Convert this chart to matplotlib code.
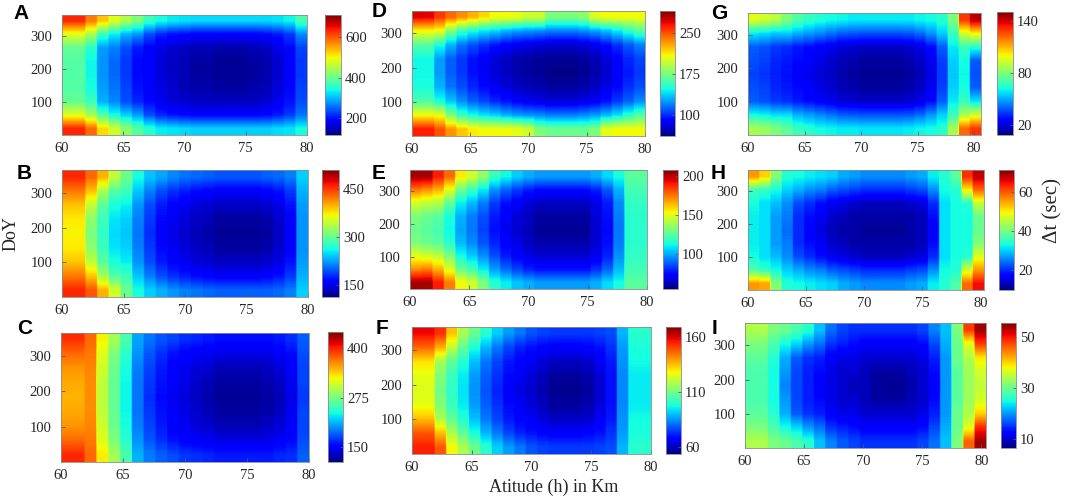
import numpy as np
import matplotlib.pyplot as plt

plt.rcParams['font.family'] = ['Liberation Serif', 'DejaVu Serif']

# DoY at the centre of each stored row (bottom -> top), 21 altitude bins from 60 km up
doy_rows = [21, 62, 102, 142, 183, 223, 264, 304, 345]

# Delta t (sec): one list per altitude bin, values along doy_rows
dt_A = [
    [632, 484, 395, 383, 383, 383, 395, 484, 632],
    [632, 484, 395, 383, 383, 383, 395, 484, 632],
    [590, 442, 365, 341, 335, 335, 353, 442, 579],
    [519, 383, 294, 282, 276, 276, 282, 365, 531],
    [472, 341, 270, 258, 252, 252, 264, 329, 484],
    [424, 312, 235, 229, 223, 223, 235, 294, 448],
    [383, 282, 211, 199, 193, 193, 205, 276, 413],
    [353, 235, 193, 187, 181, 181, 187, 235, 365],
    [329, 211, 175, 169, 163, 163, 169, 211, 341],
    [324, 199, 163, 158, 152, 152, 158, 199, 329],
    [318, 193, 158, 146, 146, 146, 152, 193, 324],
    [312, 187, 152, 140, 134, 134, 146, 187, 318],
    [312, 187, 152, 140, 134, 134, 146, 187, 318],
    [312, 187, 152, 134, 128, 128, 140, 187, 318],
    [312, 187, 152, 134, 128, 128, 140, 187, 318],
    [312, 187, 152, 134, 128, 128, 140, 187, 318],
    [312, 187, 152, 140, 134, 134, 146, 187, 318],
    [312, 193, 158, 146, 140, 140, 152, 193, 318],
    [318, 205, 175, 163, 158, 158, 169, 205, 324],
    [324, 223, 199, 193, 187, 187, 193, 223, 335],
    [341, 258, 235, 229, 223, 223, 229, 270, 377],
]
dt_B = [
    [459, 423, 391, 375, 371, 375, 391, 423, 459],
    [459, 423, 391, 375, 371, 375, 391, 423, 459],
    [439, 391, 343, 319, 311, 319, 343, 391, 431],
    [399, 331, 295, 279, 275, 279, 295, 331, 399],
    [351, 291, 263, 251, 247, 251, 263, 291, 343],
    [303, 279, 255, 243, 239, 243, 255, 279, 303],
    [263, 239, 219, 211, 207, 211, 219, 239, 263],
    [243, 211, 191, 183, 179, 183, 191, 211, 239],
    [231, 191, 171, 163, 159, 163, 171, 191, 227],
    [219, 179, 159, 151, 147, 151, 159, 179, 215],
    [211, 171, 151, 143, 139, 143, 151, 171, 207],
    [207, 163, 143, 135, 131, 135, 143, 163, 203],
    [203, 159, 139, 131, 127, 131, 139, 159, 199],
    [199, 155, 135, 123, 119, 123, 135, 155, 195],
    [199, 155, 135, 123, 119, 123, 135, 155, 195],
    [199, 155, 135, 123, 119, 123, 135, 155, 195],
    [199, 155, 135, 123, 119, 123, 135, 155, 195],
    [199, 159, 139, 127, 123, 127, 139, 159, 199],
    [203, 167, 147, 139, 135, 139, 147, 167, 203],
    [211, 183, 167, 159, 159, 159, 167, 183, 211],
    [243, 231, 223, 219, 219, 219, 223, 231, 243],
]
dt_C = [
    [398, 375, 359, 352, 349, 352, 359, 375, 395],
    [398, 375, 359, 352, 349, 352, 359, 375, 395],
    [375, 369, 365, 362, 362, 362, 365, 369, 375],
    [329, 316, 309, 303, 303, 303, 309, 316, 326],
    [293, 277, 270, 267, 267, 267, 270, 277, 293],
    [257, 244, 237, 234, 234, 234, 237, 244, 257],
    [211, 201, 194, 191, 191, 191, 194, 201, 207],
    [194, 181, 175, 171, 168, 171, 175, 181, 191],
    [184, 168, 161, 158, 155, 158, 161, 168, 181],
    [178, 158, 151, 148, 145, 148, 151, 158, 175],
    [171, 151, 145, 142, 138, 142, 145, 151, 168],
    [168, 148, 138, 135, 132, 135, 138, 148, 165],
    [165, 145, 135, 128, 125, 128, 135, 145, 161],
    [161, 142, 128, 122, 119, 122, 128, 142, 158],
    [161, 142, 128, 122, 119, 122, 128, 142, 158],
    [161, 142, 128, 122, 119, 122, 128, 142, 158],
    [161, 142, 128, 122, 119, 122, 128, 142, 158],
    [161, 142, 132, 125, 122, 125, 132, 142, 158],
    [165, 148, 138, 132, 128, 132, 138, 148, 161],
    [168, 155, 148, 145, 142, 145, 148, 155, 168],
    [184, 178, 175, 175, 171, 175, 175, 178, 184],
]
dt_D = [
    [263, 208, 162, 148, 146, 146, 164, 208, 272],
    [263, 208, 162, 148, 146, 146, 164, 208, 270],
    [249, 205, 148, 130, 125, 125, 148, 205, 256],
    [233, 176, 134, 116, 111, 111, 130, 176, 244],
    [221, 157, 121, 107, 102, 102, 116, 157, 235],
    [212, 148, 111, 98, 93, 93, 107, 148, 226],
    [208, 141, 105, 91, 86, 86, 100, 141, 217],
    [208, 137, 98, 84, 79, 79, 93, 137, 208],
    [208, 130, 93, 79, 75, 75, 88, 130, 208],
    [205, 125, 88, 75, 70, 70, 84, 125, 205],
    [198, 123, 84, 72, 68, 68, 82, 123, 198],
    [176, 121, 82, 70, 66, 66, 79, 121, 198],
    [171, 118, 79, 68, 63, 66, 77, 118, 176],
    [171, 118, 79, 68, 63, 66, 77, 118, 176],
    [171, 118, 79, 68, 63, 66, 77, 118, 176],
    [171, 121, 82, 70, 66, 68, 79, 121, 180],
    [176, 125, 86, 75, 70, 72, 84, 125, 203],
    [205, 132, 93, 82, 77, 79, 91, 132, 208],
    [208, 141, 102, 91, 86, 88, 100, 141, 208],
    [208, 153, 111, 100, 95, 98, 109, 153, 208],
    [208, 164, 121, 107, 102, 105, 118, 164, 208],
]
dt_E = [
    [203, 171, 150, 132, 128, 132, 147, 174, 203],
    [203, 174, 147, 128, 125, 128, 144, 170, 203],
    [190, 165, 144, 125, 122, 125, 141, 165, 190],
    [174, 150, 132, 116, 112, 113, 127, 150, 177],
    [154, 128, 113, 102, 99, 101, 110, 128, 156],
    [147, 121, 105, 95, 92, 93, 102, 119, 147],
    [132, 110, 96, 87, 84, 86, 93, 109, 135],
    [116, 98, 86, 79, 76, 78, 83, 96, 119],
    [110, 90, 78, 73, 70, 72, 76, 89, 112],
    [104, 84, 73, 69, 66, 67, 72, 83, 105],
    [101, 79, 69, 64, 63, 64, 67, 78, 101],
    [98, 76, 66, 61, 58, 60, 64, 75, 98],
    [98, 76, 66, 61, 58, 60, 64, 75, 98],
    [98, 76, 66, 61, 58, 60, 64, 75, 98],
    [98, 76, 66, 61, 58, 60, 64, 75, 98],
    [98, 76, 66, 61, 58, 60, 64, 75, 98],
    [101, 81, 70, 67, 66, 67, 69, 79, 101],
    [107, 89, 79, 76, 75, 76, 78, 87, 107],
    [113, 102, 96, 93, 92, 93, 95, 101, 113],
    [125, 121, 118, 116, 116, 116, 118, 121, 125],
    [125, 121, 118, 116, 116, 116, 118, 121, 125],
]
dt_F = [
    [155, 148, 135, 126, 125, 126, 131, 146, 158],
    [155, 148, 135, 126, 125, 126, 131, 146, 158],
    [148, 135, 118, 112, 110, 112, 117, 137, 153],
    [128, 118, 108, 102, 101, 102, 107, 121, 135],
    [118, 107, 99, 95, 94, 95, 99, 108, 118],
    [109, 98, 90, 86, 85, 86, 90, 98, 109],
    [100, 89, 82, 79, 78, 79, 82, 89, 100],
    [92, 82, 76, 74, 72, 74, 76, 82, 92],
    [86, 76, 71, 69, 68, 69, 71, 76, 86],
    [82, 72, 68, 66, 64, 66, 68, 72, 82],
    [78, 70, 66, 63, 62, 63, 66, 70, 78],
    [76, 68, 63, 60, 59, 60, 63, 68, 76],
    [75, 67, 61, 57, 56, 57, 61, 67, 75],
    [75, 67, 61, 57, 56, 57, 61, 67, 75],
    [75, 67, 61, 57, 56, 57, 61, 67, 75],
    [75, 68, 62, 59, 57, 59, 62, 68, 75],
    [76, 70, 66, 63, 62, 63, 66, 70, 76],
    [77, 74, 71, 70, 70, 70, 71, 74, 77],
    [89, 86, 85, 84, 84, 84, 85, 86, 89],
    [100, 98, 97, 95, 95, 95, 97, 98, 100],
    [100, 98, 97, 95, 95, 95, 97, 98, 100],
]
dt_G = [
    [87, 62, 39, 37, 35, 37, 39, 59, 97],
    [85, 60, 37, 35, 33, 35, 37, 57, 94],
    [80, 57, 34, 31, 30, 31, 34, 54, 90],
    [74, 57, 32, 29, 28, 29, 32, 55, 80],
    [68, 51, 29, 27, 25, 27, 29, 51, 72],
    [65, 48, 27, 24, 22, 24, 27, 48, 67],
    [62, 45, 24, 21, 19, 21, 24, 45, 64],
    [61, 42, 22, 18, 17, 18, 22, 42, 62],
    [59, 39, 19, 15, 14, 15, 19, 39, 61],
    [59, 38, 18, 14, 12, 14, 18, 38, 59],
    [58, 37, 17, 12, 11, 12, 17, 37, 59],
    [58, 37, 17, 12, 11, 12, 17, 37, 59],
    [58, 37, 17, 12, 11, 12, 17, 37, 59],
    [58, 37, 17, 12, 11, 12, 17, 37, 59],
    [59, 38, 18, 14, 12, 14, 18, 38, 59],
    [61, 41, 21, 17, 15, 17, 21, 41, 61],
    [62, 47, 27, 22, 21, 22, 27, 47, 62],
    [65, 55, 39, 35, 34, 35, 39, 55, 65],
    [87, 68, 59, 55, 54, 55, 59, 68, 80],
    [122, 87, 68, 62, 61, 62, 68, 94, 130],
    [130, 94, 58, 39, 37, 39, 65, 101, 144],
]
dt_H = [
    [56, 37, 33, 32, 32, 32, 33, 36, 56],
    [55, 35, 31, 31, 31, 31, 31, 35, 52],
    [41, 33, 29, 27, 27, 27, 29, 33, 41],
    [34, 30, 26, 25, 24, 25, 26, 30, 34],
    [33, 28, 22, 20, 20, 20, 22, 28, 33],
    [32, 26, 20, 18, 17, 18, 20, 26, 32],
    [31, 25, 18, 16, 15, 16, 18, 25, 31],
    [30, 23, 16, 14, 13, 14, 16, 23, 30],
    [28, 22, 15, 13, 12, 13, 15, 22, 28],
    [27, 21, 14, 12, 12, 12, 14, 21, 27],
    [26, 20, 13, 12, 11, 12, 13, 20, 26],
    [26, 20, 13, 12, 11, 12, 13, 20, 26],
    [26, 20, 13, 12, 11, 12, 13, 20, 26],
    [26, 20, 13, 12, 11, 12, 13, 20, 26],
    [27, 21, 14, 12, 12, 12, 14, 21, 27],
    [28, 22, 15, 13, 13, 13, 15, 22, 28],
    [32, 26, 20, 18, 17, 18, 20, 26, 32],
    [34, 33, 31, 31, 31, 31, 31, 33, 34],
    [37, 34, 33, 33, 33, 33, 33, 34, 38],
    [59, 47, 34, 33, 33, 33, 34, 50, 63],
    [65, 56, 48, 41, 39, 39, 46, 59, 68],
]
dt_I = [
    [34, 31, 29, 28, 28, 28, 29, 31, 34],
    [34, 31, 29, 28, 28, 28, 29, 31, 34],
    [31, 28, 26, 25, 25, 25, 26, 28, 31],
    [30, 25, 21, 20, 19, 20, 21, 25, 30],
    [28, 23, 17, 16, 16, 16, 17, 23, 28],
    [26, 20, 15, 14, 14, 14, 15, 20, 26],
    [22, 18, 14, 13, 12, 13, 14, 18, 22],
    [19, 15, 12, 11, 11, 11, 12, 15, 18],
    [17, 14, 11, 10, 10, 10, 11, 14, 16],
    [16, 13, 11, 10, 9, 10, 11, 13, 15],
    [15, 12, 10, 9, 9, 9, 10, 12, 15],
    [15, 12, 10, 8, 8, 8, 10, 12, 15],
    [15, 12, 10, 8, 7.5, 8, 10, 12, 15],
    [15, 12, 10, 8, 7.5, 8, 10, 12, 15],
    [15, 12, 10, 9, 8.5, 9, 10, 12, 15],
    [16, 13, 11, 10, 10, 10, 11, 13, 16],
    [18, 16, 14, 13, 12, 13, 14, 16, 19],
    [22, 21, 20, 20, 20, 20, 20, 21, 22],
    [31, 30, 30, 29, 29, 29, 30, 30, 31],
    [46, 37, 34, 33, 33, 33, 34, 37, 48],
    [54, 49, 40, 36, 35, 36, 39, 48, 54],
]

clims = {'A': (116, 709), 'B': (111, 511), 'C': (112, 441),
         'D': (61, 290), 'E': (55, 208), 'F': (54, 169),
         'G': (8, 151), 'H': (9.7, 71.5), 'I': (6.5, 55.5)}
cticks = {'A': [200, 400, 600], 'B': [150, 300, 450], 'C': [150, 275, 400],
          'D': [100, 175, 250], 'E': [100, 150, 200], 'F': [60, 110, 160],
          'G': [20, 80, 140], 'H': [20, 40, 60], 'I': [10, 30, 50]}
data = {'A': dt_A, 'B': dt_B, 'C': dt_C, 'D': dt_D, 'E': dt_E,
        'F': dt_F, 'G': dt_G, 'H': dt_H, 'I': dt_I}

# layout in pixels: axes box, colorbar box, letter position, right x limit
W, H = 1072, 498
layout = {
    'A': ((62, 15, 307, 135), (325, 15, 341, 135), (13, 4), 80),
    'B': ((62, 170, 308, 297), (322, 170, 339, 297), (17, 164), 80),
    'C': ((61, 333, 309, 462), (328, 332, 343, 462), (17, 319), 80),
    'D': ((412, 11, 645, 136), (660, 11, 675, 136), (372, 2), 80),
    'E': ((410, 170, 647, 289), (663, 170, 678, 289), (372, 164), 80),
    'F': ((412, 327, 651, 454), (666, 327, 681, 454), (376, 319), 80),
    'G': ((748, 13, 981, 135), (997, 12, 1013, 135), (711, 4), 80.6),
    'H': ((748, 170, 984, 290), (999, 170, 1014, 290), (711, 164), 80.3),
    'I': ((745, 323, 986, 448), (1001, 323, 1016, 448), (712, 319), 80.4),
}


def box(l, t, r, b):
    return [l / W, 1 - b / H, (r - l) / W, (b - t) / H]


fig = plt.figure(figsize=(W / 100, H / 100), dpi=100)

for key, vals in data.items():
    (abox, cbox, (lx, ly), xmax) = layout[key]
    ax = fig.add_axes(box(*abox))
    # columns are altitude bins: repeat them so only the DoY direction gets smoothed
    img = np.repeat(np.array(vals, dtype=float).T, 8, axis=1)
    lo, hi = clims[key]
    im = ax.imshow(img, cmap='jet', vmin=lo, vmax=hi, origin='lower', aspect='auto',
                   extent=[60, xmax, 1, 365], interpolation='bilinear',
                   interpolation_stage='data')
    ax.set_xlim(60, xmax)
    ax.set_ylim(1, 365)
    ax.set_xticks([60, 65, 70, 75, 80])
    ax.set_yticks([100, 200, 300])
    ax.tick_params(direction='in', length=3, width=0.6, color='0.35',
                   labelsize=10.5, labelcolor='0.15')
    ax.tick_params(axis='x', pad=5)
    ax.tick_params(axis='y', pad=7)
    for s in ax.spines.values():
        s.set_edgecolor('0.55')
        s.set_linewidth(0.6)

    cax = fig.add_axes(box(*cbox))
    cb = fig.colorbar(im, cax=cax, ticks=cticks[key])
    cb.outline.set_edgecolor('0.55')
    cb.outline.set_linewidth(0.6)
    cax.tick_params(direction='in', length=2, width=0.6, color='0.35',
                    labelsize=10.5, labelcolor='0.15', pad=3)

    fig.text(lx / W, 1 - ly / H, key, fontsize=15, fontweight='bold',
             family='Liberation Sans', ha='left', va='top')

fig.text(11 / W, 1 - 234 / H, 'DoY', rotation=90, fontsize=13,
         ha='center', va='center', color='0.15')
fig.text(554 / W, 1 - 487 / H, 'Atitude (h) in Km', fontsize=13,
         ha='center', va='center', color='0.15')
fig.text(1053 / W, 1 - 210 / H, 'Δt (sec)', rotation=90, fontsize=15,
         ha='center', va='center', color='0.15')

fig.savefig('out.png', dpi=100)
